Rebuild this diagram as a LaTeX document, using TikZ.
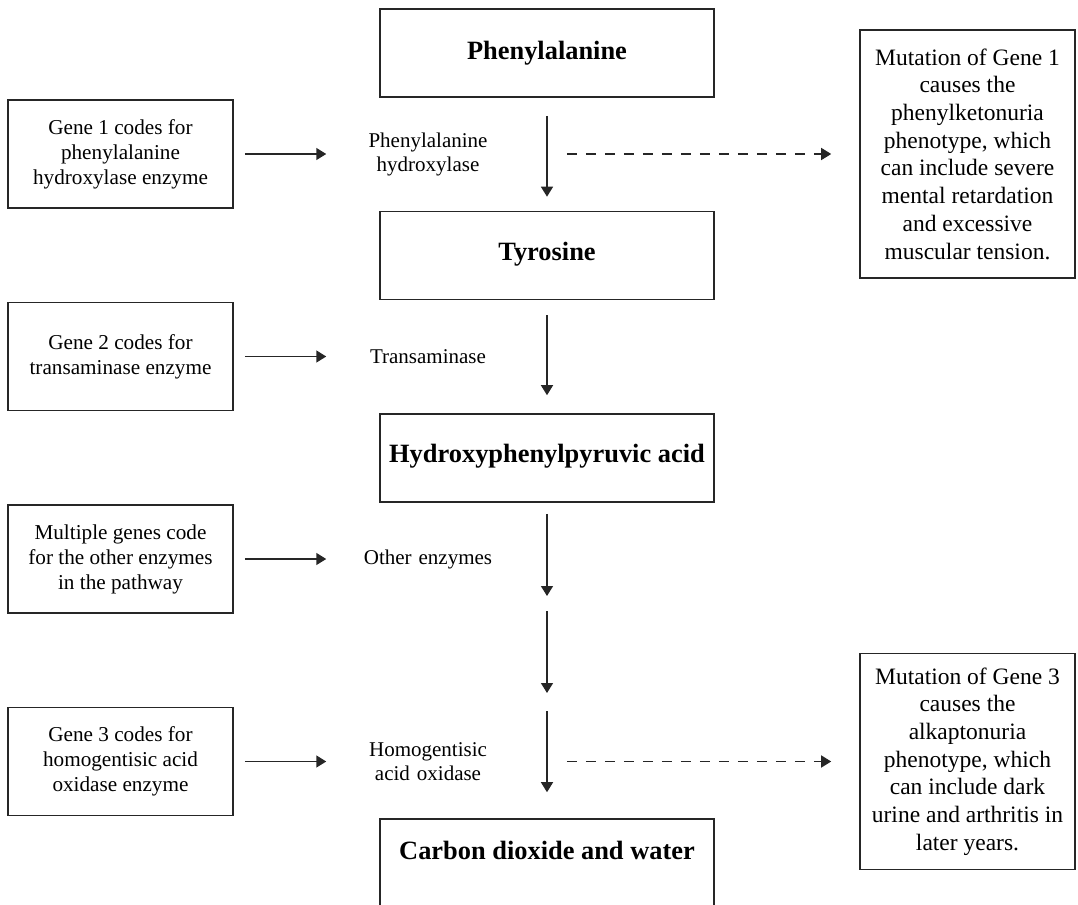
\documentclass[tikz,border=0pt]{standalone}
\usepackage{fontspec}
\setmainfont{Liberation Serif}
\usetikzlibrary{arrows.meta}

\begin{document}
\begin{tikzpicture}[x=0.5pt, y=-0.5pt, node distance=101.25pt, line width=0.75pt,
    main node/.style={rectangle,draw=black!85,line width=0.8pt,minimum width=167pt,minimum height=44pt,
                      font=\fontsize{13.2}{15}\selectfont\bfseries},
    gene node/.style={rectangle,draw=black!85,line width=0.8pt,minimum width=112.5pt,minimum height=54pt,
                      align=center,font=\fontsize{10.6}{12.5}\selectfont},
    enzyme node/.style={text width=70pt,inner sep=0pt,align=center,font=\fontsize{10.5}{12}\selectfont},
    effect node/.style={rectangle,draw=black!85,line width=0.8pt,minimum width=107.5pt,
                      align=center,font=\fontsize{11.75}{13.85}\selectfont},
    flow/.style={-{Triangle[width=6pt,length=5pt]},black!85},
    link/.style={flow,shorten <=5.5pt,shorten >=15.5pt},
    risk/.style={flow,dash pattern=on 5pt off 4.5pt,shorten <=34pt,shorten >=14pt}]

  \useasboundingbox (0,0) rectangle (1078,905);

  \node[main node] (1) at (547,53) {Phenylalanine};
  \node[main node, text depth=4pt] (2) [below of=1] {Tyrosine};
  \node[main node, text depth=4.5pt] (3) [below of=2] {Hydroxyphenylpyruvic acid};
  \node[main node, text depth=12.5pt] (4) [below of=3, node distance=202.5pt] {Carbon dioxide and water};

  \node[gene node] (g1) at (120.5,154) {Gene 1 codes for\\phenylalanine\\hydroxylase enzyme};
  \node[gene node] (g2) [below of=g1] {Gene 2 codes for\\transaminase enzyme};
  \node[gene node] (g3) [below of=g2] {Multiple genes code\\for the other enzymes\\in the pathway};
  \node[gene node] (g4) [below of=g3] {Gene 3 codes for\\homogentisic acid\\oxidase enzyme};

  \node[enzyme node] (e1) [right of=g1, node distance=153.75pt] {Phenylalanine\\hydroxylase};
  \node[enzyme node] (e2) [right of=g2, node distance=153.75pt] {Transaminase};
  \node[enzyme node] (e3) [right of=g3, node distance=153.75pt] {Other enzymes};
  \node[enzyme node] (e4) [right of=g4, node distance=153.75pt] {Homogentisic\\acid oxidase};

  \node[effect node, minimum height=124pt] (m1) [right of=e1, node distance=269.75pt]
    {Mutation of Gene 1\\causes the\\phenylketonuria\\phenotype, which\\can include severe\\mental retardation\\and excessive\\muscular tension.};
  \node[effect node, minimum height=108pt] (m3) [right of=e4, node distance=269.75pt]
    {Mutation of Gene 3\\causes the\\alkaptonuria\\phenotype, which\\can include dark\\urine and arthritis in\\later years.};

  \coordinate (c1) at (547,603.5);
  \coordinate (c2) at (547,702);

  \path[flow]
    (1) edge[shorten <=9pt, shorten >=7pt] (2)
    (2) edge[shorten <=7.5pt, shorten >=9pt] (3)
    (3) edge[shorten <=5.5pt, shorten >=3.75pt] (c1)
    (c1) edge[shorten <=3.75pt, shorten >=4.5pt] (c2)
    (c2) edge[shorten <=4.5pt, shorten >=13pt] (4);

  \path[link]
    (g1) edge (e1)
    (g2) edge (e2)
    (g3) edge (e3)
    (g4) edge (e4);

  \path[risk]
    (e1) edge (m1)
    (e4) edge (m3);
\end{tikzpicture}
\end{document}
